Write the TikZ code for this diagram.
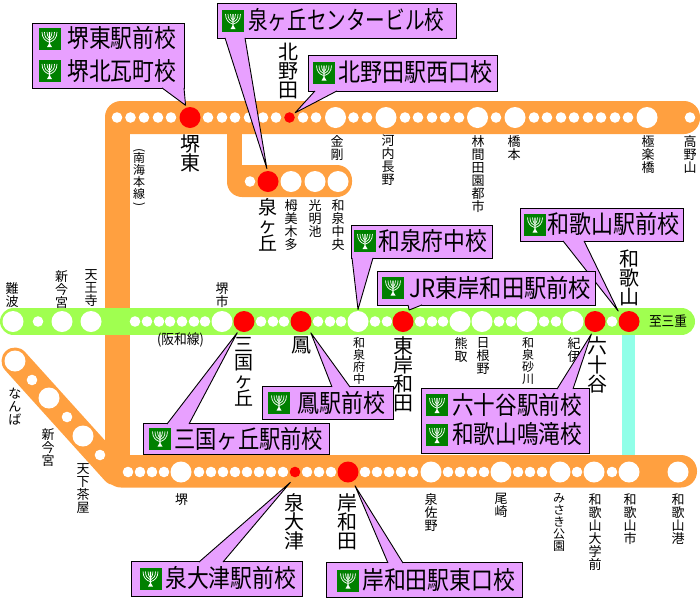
\documentclass[tikz,border=0pt]{standalone}
\usepackage{graphicx}
\usepackage{fontspec}
\setmainfont{Noto Sans CJK JP}
\definecolor{lineorange}{HTML}{FFA040}
\definecolor{linegreen}{HTML}{A0FF50}
\definecolor{linecyan}{HTML}{90FFE8}
\definecolor{boxlilac}{HTML}{E8A0FF}
\definecolor{icongreen}{HTML}{008000}
\newcommand{\fitw}[2]{\resizebox{#1pt}{\height}{#2}}
\tikzset{
  smallst/.style={circle,fill=white,inner sep=0pt,minimum size=10.6pt},
  bigst/.style={circle,fill=white,inner sep=0pt,minimum size=21pt,outer sep=1.5pt},
  redst/.style={circle,fill=red,inner sep=0pt,minimum size=21pt,outer sep=2.5pt},
  redsmall/.style={circle,fill=red,inner sep=0pt,minimum size=10.6pt,outer sep=2pt},
  bigname/.style={anchor=north,align=center,inner sep=0pt,font={\fontsize{20}{19}\selectfont\lineskiplimit -50pt}},
  bigtight/.style={bigname,font={\fontsize{19}{18}\selectfont\lineskiplimit -50pt}},
  smallname/.style={anchor=north,align=center,inner sep=0pt,font={\fontsize{13}{13}\selectfont\lineskiplimit -50pt}},
  smalltight/.style={smallname,font={\fontsize{12}{12}\selectfont\lineskiplimit -50pt}},
  flatname/.style={inner sep=0pt,font=\fontsize{14}{14}\selectfont},
  schoolbox/.style={draw=black,fill=boxlilac,line width=0.9pt,inner sep=0pt,anchor=north west},
  schooltail/.style={draw=black,fill=boxlilac,line width=0.9pt,line join=round},
  schoolname/.style={anchor=west,inner sep=0pt,font=\fontsize{25}{25}\selectfont},
  pics/schoolicon/.style={code={
    \fill[icongreen] (-11,-11) rectangle (11,11);
    \draw[white,line width=0.7pt] (-7.5,-7) .. controls (-7.5,-1) and (-4,2) .. (-0.5,3);
    \draw[white,line width=0.7pt] (7.5,-7) .. controls (7.5,-1) and (4,2) .. (0.5,3);
    \draw[white,line width=0.7pt] (-5,-7) .. controls (-5,-2) and (-3,0) .. (-0.5,1);
    \draw[white,line width=0.7pt] (5,-7) .. controls (5,-2) and (3,0) .. (0.5,1);
    \draw[white,line width=0.7pt] (-2.5,-7) .. controls (-2.5,-4) and (-1.5,-2) .. (-0.5,-1);
    \draw[white,line width=0.7pt] (2.5,-7) .. controls (2.5,-4) and (1.5,-2) .. (0.5,-1);
    \fill[white] (-0.6,-7) -- (0.6,-7) -- (0.7,5) -- (2.5,8) -- (-2.5,8) -- (-0.7,5) -- cycle;
  }},
}
\begin{document}
\begin{tikzpicture}[x=1pt,y=-1pt]
  \useasboundingbox (0,0) rectangle (700,600);
  \fill[linecyan] (622,330) rectangle (635,460);
  \fill[lineorange,rounded corners=16] (105,101) rectangle (700,134);
  \fill[lineorange] (105,118) rectangle (130,460);
  \fill[lineorange] (227,125) rectangle (242,180);
  \fill[lineorange,rounded corners=15] (227,165) rectangle (352,197);
  \fill[lineorange,rounded corners=16] (105,455) rectangle (697,487.5);
  \draw[lineorange,line width=27pt,line cap=round] (15,361) -- (115,471.7);
  \draw[linegreen,line width=27pt,line cap=round] (13.5,321.5) -- (681.5,321.5);

  \foreach \x [count=\i] in {117,130.5,144,158,171,208,222,235,249,263,276,303,316,353.5,367,405,418,432,445,459,496,534,547,561,574,588,601,615,628,690}
    \node[smallst] (koyasmall\i) at (\x,117.5) {};
  \foreach \x [count=\i] in {335.5,386,477.5,515,647}
    \node[bigst] (koyabig\i) at (\x,117.5) {};
  \node[redst] (sakaihigashi) at (190,117.5) {};
  \node[redsmall] (kitanoda) at (289.5,117.5) {};

  \node[smallst] (senboku1) at (250,181.5) {};
  \node[redst] (izumigaoka) at (268,181.5) {};
  \foreach \x [count=\i] in {291,315,338}
    \node[bigst] (senbokubig\i) at (\x,181.5) {};

  \foreach \x [count=\i] in {38,135,147,159,170,182,194,205,261,273,284,318,330,341,375,387,420,432,443,499,511,544,556,612}
    \node[smallst] (hanwasmall\i) at (\x,321.5) {};
  \foreach \x [count=\i] in {13,62,91,222,460,482,527,573}
    \node[bigst] (hanwabig\i) at (\x,321.5) {};
  \node[bigst] (izumifuchu) at (358,321.5) {};
  \node[redst] (mikunigaoka) at (244,321.5) {};
  \node[redst,outer sep=4.5pt] (otori) at (301,321.5) {};
  \node[redst] (higashikishiwada) at (403,321.5) {};
  \node[redst] (mushiodani) at (595,321.5) {};
  \node[redst,outer sep=4.5pt] (wakayama) at (629,321.5) {};

  \node[bigst] (namba1) at (15,361) {};
  \node[smallst] (namba2) at (32,380) {};
  \node[bigst] (namba3) at (49,398) {};
  \node[smallst] (namba4) at (67,417) {};
  \node[bigst] (namba5) at (83,436) {};
  \node[smallst] (namba6) at (100,455) {};

  \foreach \x [count=\i] in {128,140,152,164,199,211,223,235,247,259,271,283,307,319,331,365,377,389,401,413,448,460,472,484,518,530,542,577,612}
    \node[smallst] (nankaismall\i) at (\x,472) {};
  \foreach \x [count=\i] in {181,431,501,560,594,629,678}
    \node[bigst] (nankaibig\i) at (\x,472) {};
  \node[redsmall,outer sep=6pt] (izumiotsu) at (295,472) {};
  \node[redst,outer sep=5pt] (kishiwada) at (348,472) {};

  \node[bigname] (lblsakaihigashi) at (190,135) {堺\\東};
  \node[bigname] (lblkitanoda) at (288.5,43) {北\\野\\田};
  \node[bigtight] (lblizumigaoka) at (268,198) {泉\\ヶ\\丘};
  \node[smallname] (lblumemi) at (291,199) {栂\\美\\木\\多};
  \node[smallname] (lblkomyo) at (315,199) {光\\明\\池};
  \node[smallname] (lblizumichuo) at (338,199) {和\\泉\\中\\央};
  \node[smallname] (lblkongo) at (337,135) {金\\剛};
  \node[smallname] (lblkawachi) at (388,135) {河\\内\\長\\野};
  \node[smallname] (lblrinkan) at (478,135) {林\\間\\田\\園\\都\\市};
  \node[smallname] (lblhashimoto) at (514,135) {橋\\本};
  \node[smallname] (lblgokuraku) at (648,135) {極\\楽\\橋};
  \node[smallname] (lblkoya) at (690,135) {高\\野\\山};
  \node[smalltight] (lblnankaisen) at (139,148) {\rotatebox[origin=c]{-90}{(}\\[-3pt]南\\海\\本\\線\\[-3pt]\rotatebox[origin=c]{-90}{)}};

  \node[smallname] (lblnamba) at (12,282) {難\\波};
  \node[smallname] (lblshinimamiya) at (61.5,270) {新\\今\\宮};
  \node[smallname] (lbltennoji) at (91,269) {天\\王\\寺};
  \node[smallname] (lblsakaishi) at (222,282) {堺\\市};
  \node[flatname] (lblhanwasen) at (180.5,340) {\fitw{47}{(阪和線)}};
  \node[bigtight] (lblmikuni) at (244,337) {三\\国\\ヶ\\丘};
  \node[bigname] (lblotori) at (301,337) {鳳};
  \node[smalltight] (lblizumifuchu) at (359,337) {和\\泉\\府\\中};
  \node[bigname] (lblhigashikishi) at (403,337) {東\\岸\\和\\田};
  \node[smallname] (lblkumatori) at (461,337) {熊\\取};
  \node[smallname] (lblhineno) at (483,337) {日\\根\\野};
  \node[smalltight] (lblsunagawa) at (528,337) {和\\泉\\砂\\川};
  \node[smallname] (lblkii) at (574,337) {紀\\伊};
  \node[bigname] (lblmushiodani) at (597,337) {六\\十\\谷};
  \node[bigname] (lblwakayama) at (629,250) {和\\歌\\山};
  \node[flatname] (lblmie) at (668,321) {\fitw{38}{至三重}};

  \node[smallname] (lblnanba) at (15,388) {な\\ん\\ば};
  \node[smallname] (lblshinimamiya2) at (48,428) {新\\今\\宮};
  \node[smallname] (lbltengachaya) at (83,463) {天\\下\\茶\\屋};
  \node[smallname] (lblsakai) at (181.5,493) {堺};
  \node[bigname] (lblizumiotsu) at (294,493) {泉\\大\\津};
  \node[bigname] (lblkishiwada) at (347,493) {岸\\和\\田};
  \node[smallname] (lblizumisano) at (431,493) {泉\\佐\\野};
  \node[smallname] (lblozaki) at (501,493) {尾\\崎};
  \node[smalltight] (lblmisaki) at (559,493) {み\\さ\\き\\公\\園};
  \node[smallname] (lbluniv) at (595,493) {和\\歌\\山\\大\\学\\前};
  \node[smallname] (lblwakayamashi) at (630,493) {和\\歌\\山\\市};
  \node[smallname] (lblwakayamako) at (678,493) {和\\歌\\山\\港};

  \node[schoolbox,minimum width=152pt,minimum height=65pt] (boxsakai) at (32,23) {};
  \draw[schooltail] ([xshift=130pt,yshift=1pt]boxsakai.south west) -- (sakaihigashi.110) -- ([xshift=152pt,yshift=1pt]boxsakai.south west);
  \pic at (49.5,39) {schoolicon};
  \pic at (49.5,71) {schoolicon};
  \node[schoolname] (txtsakai1) at (67,38) {\fitw{109}{堺東駅前校}};
  \node[schoolname] (txtsakai2) at (67,71) {\fitw{109}{堺北瓦町校}};

  \node[schoolbox,minimum width=239pt,minimum height=35.5pt] (boxizumigaoka) at (217,2.5) {};
  \draw[schooltail] ([xshift=8pt,yshift=1pt]boxizumigaoka.south west) -- (izumigaoka.95) -- ([xshift=28pt,yshift=1pt]boxizumigaoka.south west);
  \pic at (233,21) {schoolicon};
  \node[schoolname] (txtizumigaoka) at (248,20) {\fitw{196}{泉ヶ丘センタービル校}};

  \node[schoolbox,minimum width=189pt,minimum height=36pt] (boxkitanoda) at (308,55) {};
  \draw[schooltail] ([xshift=7pt,yshift=1pt]boxkitanoda.south west) -- (kitanoda.40) -- ([xshift=29pt,yshift=1pt]boxkitanoda.south west);
  \pic at (324,72.5) {schoolicon};
  \node[schoolname] (txtkitanoda) at (338,72) {\fitw{154}{北野田駅西口校}};

  \node[schoolbox,minimum width=141pt,minimum height=33pt] (boxfuchu) at (351,225) {};
  \draw[schooltail] ([xshift=1pt,yshift=1pt]boxfuchu.south west) -- (izumifuchu.north) -- ([xshift=22pt,yshift=1pt]boxfuchu.south west);
  \pic at (365,241) {schoolicon};
  \node[schoolname] (txtfuchu) at (378,241) {\fitw{109}{和泉府中校}};

  \node[schoolbox,minimum width=163pt,minimum height=33pt] (boxwakayama) at (520,208) {};
  \draw[schooltail] ([xshift=43pt,yshift=1pt]boxwakayama.south west) -- (wakayama.136) -- ([xshift=64pt,yshift=1pt]boxwakayama.south west);
  \pic at (535,224.5) {schoolicon};
  \node[schoolname] (txtwakayama) at (547,224) {\fitw{132}{和歌山駅前校}};

  \node[schoolbox,minimum width=218pt,minimum height=34pt] (boxhigashi) at (377,271) {};
  \draw[schooltail] ([xshift=31pt,yshift=1pt]boxhigashi.south west) -- (higashikishiwada.62) -- ([xshift=45pt,yshift=1pt]boxhigashi.south west);
  \pic at (393,287.5) {schoolicon};
  \node[schoolname] (txthigashi) at (409,288) {\fitw{182}{JR東岸和田駅前校}};

  \node[schoolbox,minimum width=168pt,minimum height=65pt] (boxmushiodani) at (421,388) {};
  \draw[schooltail] ([xshift=136pt,yshift=-1pt]boxmushiodani.north west) -- (mushiodani.254) -- ([xshift=152pt,yshift=-1pt]boxmushiodani.north west);
  \pic at (437,405) {schoolicon};
  \pic at (437,435) {schoolicon};
  \node[schoolname] (txtmushiodani) at (452,405) {\fitw{130}{六十谷駅前校}};
  \node[schoolname] (txtnarutaki) at (452,434) {\fitw{130}{和歌山鳴滝校}};

  \node[schoolbox,minimum width=131pt,minimum height=33pt] (boxotori) at (262,386) {};
  \draw[schooltail] ([xshift=70pt,yshift=-1pt]boxotori.north west) -- (otori.311) -- ([xshift=88pt,yshift=-1pt]boxotori.north west);
  \pic at (279,402.5) {schoolicon};
  \node[schoolname] (txtotori) at (297,402.5) {\fitw{88}{鳳駅前校}};

  \node[schoolbox,minimum width=186pt,minimum height=31pt] (boxmikuni) at (143,423) {};
  \draw[schooltail] ([xshift=24pt,yshift=-1pt]boxmikuni.north west) -- (mikunigaoka.239) -- ([xshift=46pt,yshift=-1pt]boxmikuni.north west);
  \pic at (160,438.5) {schoolicon};
  \node[schoolname] (txtmikuni) at (174,438.5) {\fitw{149}{三国ヶ丘駅前校}};

  \node[schoolbox,minimum width=171pt,minimum height=35pt] (boxotsu) at (131,561) {};
  \draw[schooltail] ([xshift=68pt,yshift=-1pt]boxotsu.north west) -- (izumiotsu.246) -- ([xshift=92pt,yshift=-1pt]boxotsu.north west);
  \pic at (150.5,578.5) {schoolicon};
  \node[schoolname] (txtotsu) at (165,578) {\fitw{131}{泉大津駅前校}};

  \node[schoolbox,minimum width=196pt,minimum height=35pt] (boxkishiwada) at (326,562) {};
  \draw[schooltail] ([xshift=62pt,yshift=-1pt]boxkishiwada.north west) -- (kishiwada.297) -- ([xshift=77pt,yshift=-1pt]boxkishiwada.north west);
  \pic at (348,580.5) {schoolicon};
  \node[schoolname] (txtkishiwada) at (362,580) {\fitw{153}{岸和田駅東口校}};
\end{tikzpicture}
\end{document}
